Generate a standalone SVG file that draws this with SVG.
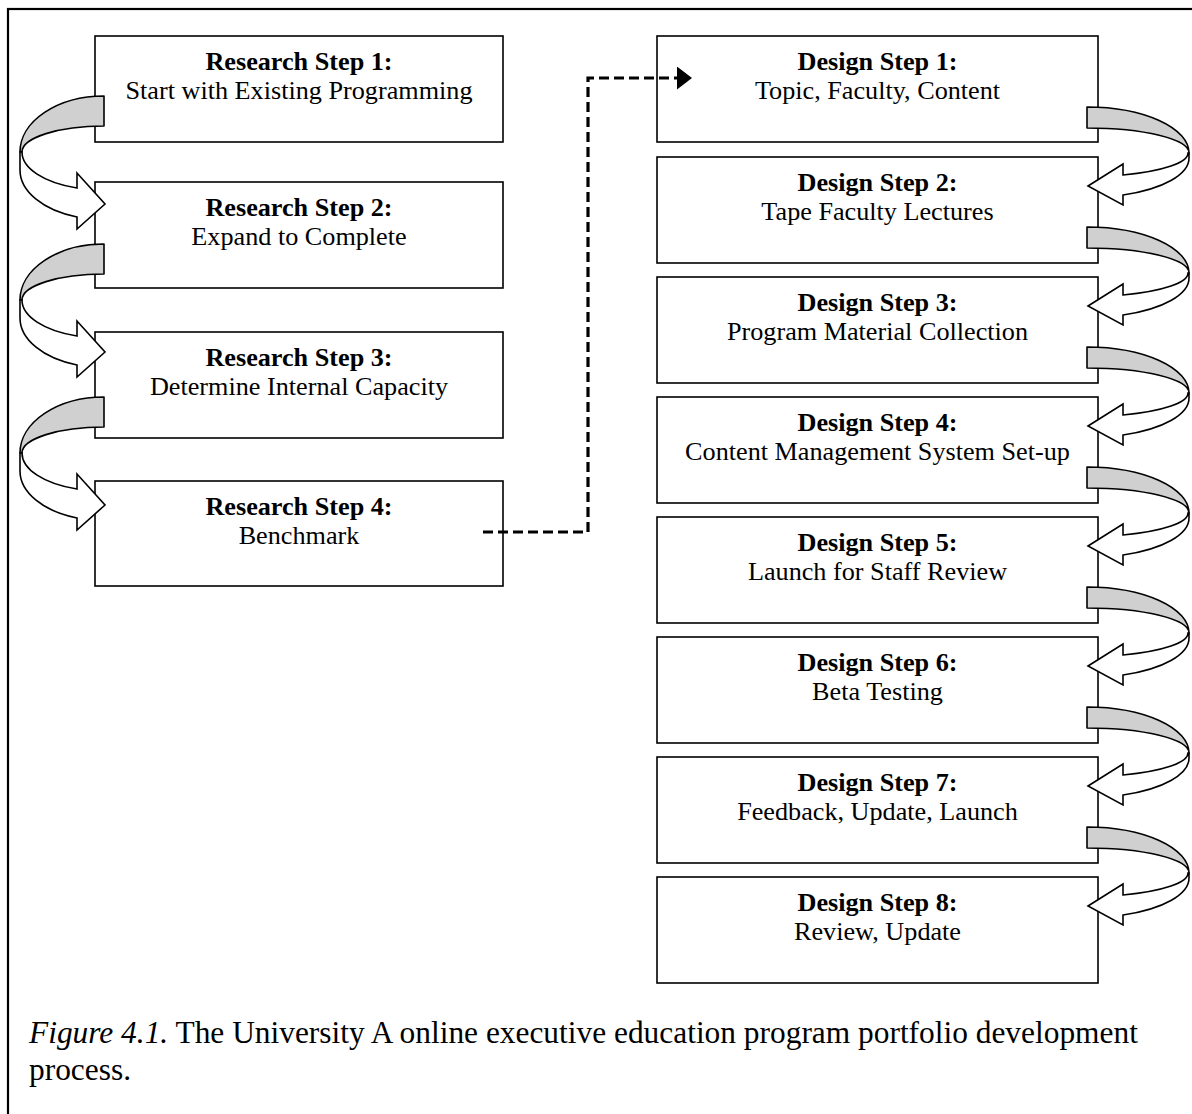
<svg xmlns="http://www.w3.org/2000/svg" width="1192" height="1114" viewBox="0 0 1192 1114">
  <defs>
    <style>
      .frame { fill: none; stroke: #000; stroke-width: 2.2; }
      .box { fill: #fff; stroke: #000; stroke-width: 1.6; }
      .t { font-family: "Liberation Serif", "Times New Roman", serif; font-size: 26.2px; fill: #000; text-anchor: middle; }
      .t .h { font-weight: bold; }
      .cap { font-family: "Liberation Serif", "Times New Roman", serif; font-size: 31.4px; fill: #000; }
      .back { fill: #d0d0d0; stroke: #000; stroke-width: 1.6; stroke-linejoin: round; }
      .front { fill: #fff; stroke: #000; stroke-width: 1.6; stroke-linejoin: miter; }
      .dash { fill: none; stroke: #000; stroke-width: 3.2; stroke-dasharray: 10 5; }
    </style>
    <!-- curved ribbon arrow looping out to the left of the research column -->
    <g id="loopLeft">
      <path class="back" d="M104,96 A84,56 0 0 0 20,152 L22,152 A82,26 0 0 1 104,126 Z"/>
      <path class="front" d="M20,152 L20,170 A84,49.6 0 0 0 77,217 L77,229 L105,204 L77,173 L77,188 A82,38 0 0 1 22,152 Z"/>
    </g>
    <!-- curved ribbon arrow looping out to the right of the design column -->
    <g id="loopRight">
      <path class="back" d="M1087,107 A102,46 0 0 1 1189,153 A102,25 0 0 0 1087,128 Z"/>
      <path class="front" d="M1189,153 L1189,158 A102,39.4 0 0 1 1123,195 L1123,205 L1088,186 L1123,164 L1123,175 A101,23.5 0 0 0 1188,153 Z"/>
    </g>
    <marker id="tri" viewBox="0 0 15 23" refX="0" refY="11.5" markerWidth="15" markerHeight="23" markerUnits="userSpaceOnUse" orient="auto">
      <path d="M0,0 L15,11.5 L0,23 Z" fill="#000"/>
    </marker>
  </defs>

  <rect x="0" y="0" width="1192" height="1114" fill="#fff"/>
  <rect class="frame" x="8" y="9" width="1220" height="1140"/>

  <!-- research column -->
  <g id="research-1">
    <rect class="box" x="95" y="36" width="408" height="106"/>
    <text class="t"><tspan class="h" x="299" y="70">Research Step 1:</tspan><tspan x="299" y="99">Start with Existing Programming</tspan></text>
  </g>
  <g id="research-2">
    <rect class="box" x="95" y="182" width="408" height="106"/>
    <text class="t"><tspan class="h" x="299" y="216">Research Step 2:</tspan><tspan x="299" y="245">Expand to Complete</tspan></text>
  </g>
  <g id="research-3">
    <rect class="box" x="95" y="332" width="408" height="106"/>
    <text class="t"><tspan class="h" x="299" y="366">Research Step 3:</tspan><tspan x="299" y="395">Determine Internal Capacity</tspan></text>
  </g>
  <g id="research-4">
    <rect class="box" x="95" y="481" width="408" height="105"/>
    <text class="t"><tspan class="h" x="299" y="515">Research Step 4:</tspan><tspan x="299" y="544">Benchmark</tspan></text>
  </g>

  <!-- design column -->
  <g id="design-1">
    <rect class="box" x="657" y="36" width="441" height="106"/>
    <text class="t"><tspan class="h" x="877.5" y="70">Design Step 1:</tspan><tspan x="877.5" y="99">Topic, Faculty, Content</tspan></text>
  </g>
  <g id="design-2">
    <rect class="box" x="657" y="157" width="441" height="106"/>
    <text class="t"><tspan class="h" x="877.5" y="191">Design Step 2:</tspan><tspan x="877.5" y="220">Tape Faculty Lectures</tspan></text>
  </g>
  <g id="design-3">
    <rect class="box" x="657" y="277" width="441" height="106"/>
    <text class="t"><tspan class="h" x="877.5" y="311">Design Step 3:</tspan><tspan x="877.5" y="340">Program Material Collection</tspan></text>
  </g>
  <g id="design-4">
    <rect class="box" x="657" y="397" width="441" height="106"/>
    <text class="t"><tspan class="h" x="877.5" y="431">Design Step 4:</tspan><tspan x="877.5" y="460">Content Management System Set-up</tspan></text>
  </g>
  <g id="design-5">
    <rect class="box" x="657" y="517" width="441" height="106"/>
    <text class="t"><tspan class="h" x="877.5" y="551">Design Step 5:</tspan><tspan x="877.5" y="580">Launch for Staff Review</tspan></text>
  </g>
  <g id="design-6">
    <rect class="box" x="657" y="637" width="441" height="106"/>
    <text class="t"><tspan class="h" x="877.5" y="671">Design Step 6:</tspan><tspan x="877.5" y="700">Beta Testing</tspan></text>
  </g>
  <g id="design-7">
    <rect class="box" x="657" y="757" width="441" height="106"/>
    <text class="t"><tspan class="h" x="877.5" y="791">Design Step 7:</tspan><tspan x="877.5" y="820">Feedback, Update, Launch</tspan></text>
  </g>
  <g id="design-8">
    <rect class="box" x="657" y="877" width="441" height="106"/>
    <text class="t"><tspan class="h" x="877.5" y="911">Design Step 8:</tspan><tspan x="877.5" y="940">Review, Update</tspan></text>
  </g>

  <g id="connectors">
    <use href="#loopLeft"/>
    <use href="#loopLeft" transform="translate(0,148)"/>
    <use href="#loopLeft" transform="translate(0,301)"/>

    <use href="#loopRight"/>
    <use href="#loopRight" transform="translate(0,120)"/>
    <use href="#loopRight" transform="translate(0,240)"/>
    <use href="#loopRight" transform="translate(0,360)"/>
    <use href="#loopRight" transform="translate(0,480)"/>
    <use href="#loopRight" transform="translate(0,600)"/>
    <use href="#loopRight" transform="translate(0,720)"/>

    <path class="dash" d="M483,532 H588 V78 H677" marker-end="url(#tri)"/>
  </g>

  <g id="caption">
    <text class="cap" x="29" y="1043"><tspan font-style="italic">Figure 4.1.</tspan> The University A online executive education program portfolio development</text>
    <text class="cap" x="29" y="1080">process.</text>
  </g>
</svg>
